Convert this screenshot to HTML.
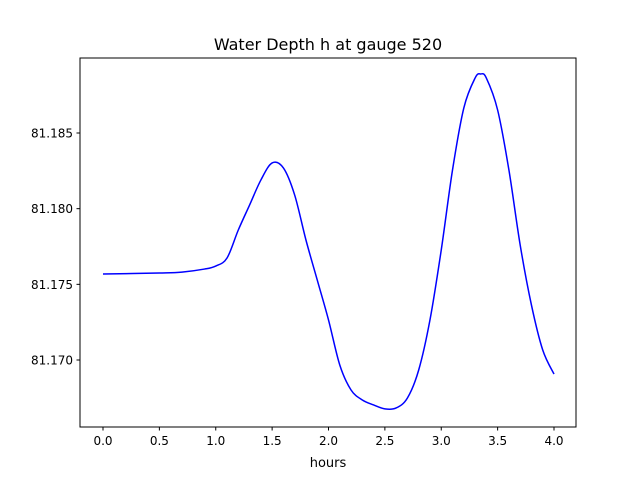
<!DOCTYPE html>
<html><head><meta charset="utf-8"><style>
body{margin:0;background:#fff;font-family:"Liberation Sans","DejaVu Sans",sans-serif;}
</style></head><body>
<svg width="640" height="480" xmlns="http://www.w3.org/2000/svg" font-family="DejaVu Sans, Liberation Sans, sans-serif">
<rect width="640" height="480" fill="#fff"/>
<text x="328" y="50" font-size="16" text-anchor="middle">Water Depth h at gauge 520</text>
<g id="axes"></g>
<path id="line" fill="none" stroke="#0000ff" stroke-width="1.5"/>
<rect x="80" y="58" width="496" height="369" fill="none" stroke="#000" stroke-width="1"/>
<text x="328" y="467" font-size="13" text-anchor="middle">hours</text>
</svg>
<script>
const hours=[0,0.5,0.7,0.9,1.0,1.1,1.2,1.3,1.4,1.5,1.6,1.7,1.8,1.9,2.0,2.1,2.2,2.3,2.4,2.5,2.6,2.7,2.8,2.9,3.0,3.1,3.2,3.3,3.35,3.4,3.5,3.6,3.7,3.8,3.9,4.0];
const depth=[81.17568,81.17575,81.17581,81.17601,81.17621,81.17674,81.17859,81.18024,81.18189,81.18302,81.18269,81.18090,81.17793,81.17529,81.17265,81.16967,81.16802,81.16736,81.16703,81.16677,81.16683,81.16749,81.16934,81.17265,81.17727,81.18256,81.18665,81.18863,81.18890,81.18863,81.18652,81.18256,81.17760,81.17363,81.17066,81.16907];
const xTicks=[0,0.5,1.0,1.5,2.0,2.5,3.0,3.5,4.0];
const yTicks=[81.170,81.175,81.180,81.185];
const X=v=>103+v*112.75;
const Y=v=>133+(81.185-v)/0.005*75.67;
const ns="http://www.w3.org/2000/svg";
const g=document.getElementById('axes');
function mk(t,a){const e=document.createElementNS(ns,t);for(const k in a)e.setAttribute(k,a[k]);g.appendChild(e);return e;}
xTicks.forEach(t=>{
 const l=mk('line',{x1:X(t),x2:X(t),y1:427,y2:430.5,stroke:'#000'});
 
 
 const tx=mk('text',{x:X(t),y:445,'font-size':12,'text-anchor':'middle'});tx.textContent=t.toFixed(1);
 
 
});
yTicks.forEach(t=>{
 const l=mk('line',{x1:76.5,x2:80,y1:Y(t),y2:Y(t),stroke:'#000'});
 
 
 const tx=mk('text',{x:73,y:Y(t)+4.5,'font-size':12,'text-anchor':'end'});tx.textContent=t.toFixed(3);
 
 
});
const pts=hours.map((h,i)=>[X(h),Y(depth[i])]);
let d='M'+pts[0][0]+','+pts[0][1];
for(let i=0;i<pts.length-1;i++){
 const p0=pts[Math.max(0,i-1)],p1=pts[i],p2=pts[i+1],p3=pts[Math.min(pts.length-1,i+2)];
 const c1=[p1[0]+(p2[0]-p0[0])/6,p1[1]+(p2[1]-p0[1])/6];
 const c2=[p2[0]-(p3[0]-p1[0])/6,p2[1]-(p3[1]-p1[1])/6];
 d+=' C'+c1+' '+c2+' '+p2;
}
document.getElementById('line').setAttribute('d',d);
</script>
</body></html>
